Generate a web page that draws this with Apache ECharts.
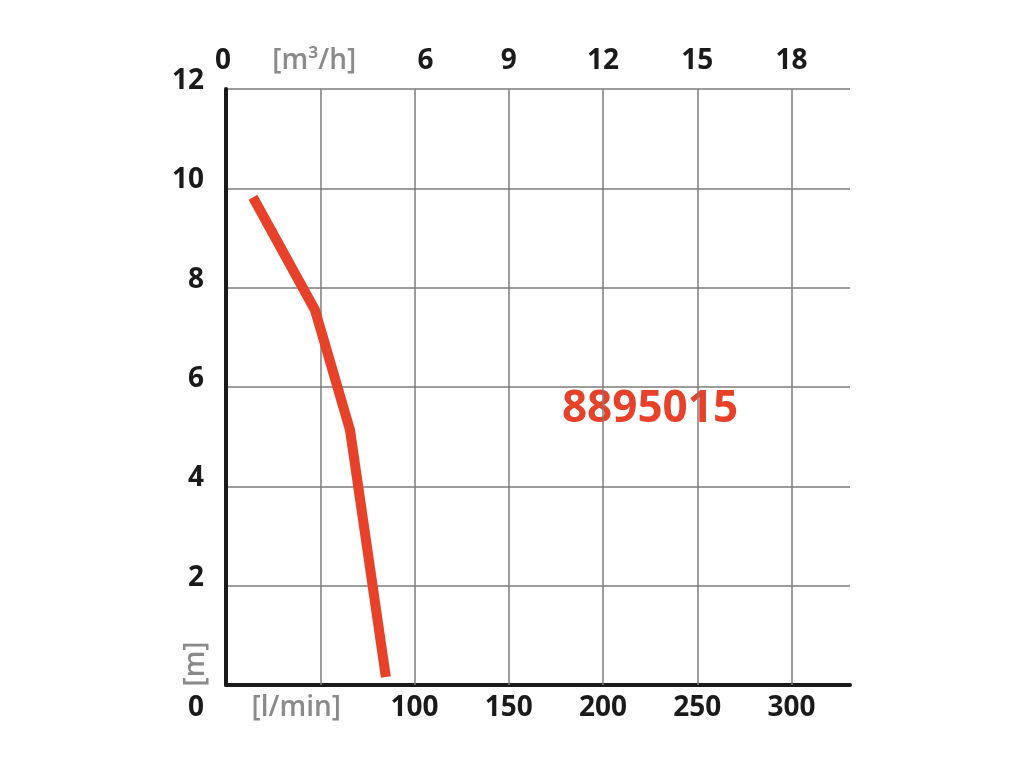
<!DOCTYPE html>
<html>
<head>
<meta charset="utf-8">
<script src="https://cdn.jsdelivr.net/npm/echarts@6/dist/echarts.min.js"></script>
<style>html,body{margin:0;padding:0;background:#fff}#c{width:1024px;height:768px}</style>
</head>
<body>
<div id="c"></div>
<script>
// Data (flow in l/min, head in m)
const flowLpm = [14.3, 47.2, 65.8, 84.8];
const headM = [9.82, 7.55, 5.13, 0.16];
const modelName = '8895015';
const yTicks = [0, 2, 4, 6, 8, 10, 12];
const xTicksLpm = [0, 50, 100, 150, 200, 250, 300];
const xTicksM3h = [0, 3, 6, 9, 12, 15, 18];
const xMaxLpm = 331;
const unitFlowLpm = '[l/min]';
const unitFlowM3h = '[m³/h]';
const unitHead = '[m]';

const FONT = '"Open Sans", "Noto Sans", sans-serif';
const DARK = '#1a1a1a', GRAY = '#8a8a8a', RED = '#e8412a', GRID = '#7d7d7d';
const FS = 28;

const chart = echarts.init(document.getElementById('c'), null, {renderer: 'canvas'});
const lineData = flowLpm.map((x, i) => [x, headM[i]]);

chart.setOption({
  backgroundColor: '#ffffff',
  animation: false,
  grid: {left: 226, right: 174, top: 89, bottom: 83, containLabel: false},
  xAxis: [{
    type: 'value', position: 'bottom', min: 0, max: xMaxLpm, interval: 50,
    axisLine: {show: true, lineStyle: {color: DARK, width: 4}},
    axisTick: {show: false},
    splitLine: {show: false},
    axisLabel: {
      margin: 9, fontFamily: FONT, fontSize: FS, fontWeight: 'bold', color: DARK,
      showMaxLabel: false,
      formatter: v => v === 0 ? '' : (v === xTicksLpm[1] ? '{u|' + unitFlowLpm + '}' : String(v)),
      rich: {u: {color: GRAY, fontFamily: FONT, fontSize: FS, fontWeight: 600, padding: [0, 48, 0, 0]}}
    }
  }, {
    type: 'value', position: 'top', min: 0, max: xMaxLpm * 60 / 1000, interval: 3,
    axisLine: {show: false}, axisTick: {show: false}, splitLine: {show: false},
    axisLabel: {
      margin: 14, fontFamily: FONT, fontSize: FS, fontWeight: 'bold', color: DARK,
      showMaxLabel: false,
      formatter: v => v === 0 ? '{o|0}' : (v === xTicksM3h[1] ? '{u|' + unitFlowM3h + '}' : (v === xTicksM3h[2] ? '{s|' + v + '}' : String(v))),
      rich: {
        o: {color: DARK, fontFamily: FONT, fontSize: FS, fontWeight: 'bold', padding: [0, 6, 0, 0]},
        u: {color: GRAY, fontFamily: FONT, fontSize: FS, fontWeight: 600, padding: [0, 12, 0, 0]},
        s: {color: DARK, fontFamily: FONT, fontSize: FS, fontWeight: 'bold', padding: [0, 0, 0, 22]}
      }
    }
  }],
  yAxis: {
    type: 'value', min: 0, max: 12, interval: 2,
    axisLine: {show: true, lineStyle: {color: DARK, width: 4}},
    axisTick: {show: false},
    splitLine: {show: true, lineStyle: {color: GRID, width: 1.5}},
    axisLabel: {
      margin: 22, fontFamily: FONT, fontSize: FS, fontWeight: 'bold', color: DARK,
      formatter: v => v === 0 ? '{z|0}' : '{a|' + v + '}',
      rich: {
        a: {fontFamily: FONT, fontSize: FS, fontWeight: 'bold', color: DARK, padding: [0, 0, 16, 0]},
        z: {fontFamily: FONT, fontSize: FS, fontWeight: 'bold', color: DARK, padding: [46, 0, 0, 0]}
      }
    }
  },
  graphic: [
    {type: 'text', x: 196, y: 664, rotation: Math.PI / 2,
     style: {text: unitHead, fill: GRAY, font: '600 ' + FS + 'px ' + FONT, textAlign: 'center', textVerticalAlign: 'middle'}},
    {type: 'text', x: 650, y: 409,
     style: {text: modelName, fill: RED, font: 'bold 44px ' + FONT, textAlign: 'center', textVerticalAlign: 'middle'}}
  ],
  series: [{
    type: 'line', xAxisIndex: 0, yAxisIndex: 0, data: lineData, z: 3,
    showSymbol: false, symbol: 'none', smooth: false,
    lineStyle: {color: RED, width: 10, cap: 'butt', join: 'round'},
    markLine: {
      silent: true, symbol: 'none', z: 1, animation: false,
      label: {show: false},
      lineStyle: {color: GRID, width: 1.5, type: 'solid'},
      data: xTicksLpm.slice(1).map(v => ({xAxis: v}))
    }
  }]
});
</script>
</body>
</html>
